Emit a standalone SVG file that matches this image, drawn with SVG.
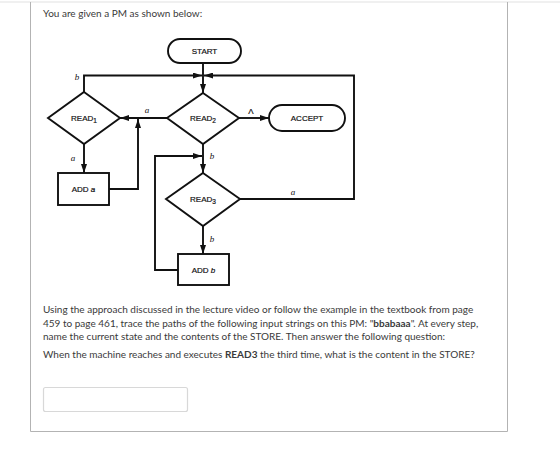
<svg xmlns="http://www.w3.org/2000/svg" width="560" height="455" viewBox="0 0 560 455">
<defs>
<marker id="ah" markerUnits="userSpaceOnUse" markerWidth="9" markerHeight="6" refX="9" refY="3" orient="auto">
<path d="M0,0 L9,3 L0,6 z" fill="#111"/>
</marker>
</defs>
<style>
.pg{font-family:Lato,"Open Sans","Liberation Sans",sans-serif;fill:#3a3a3a;font-size:10px}
.sh{fill:#fff;stroke:#111;stroke-width:1.9}
.ln{fill:none;stroke:#111;stroke-width:1.9}
.nt{font-family:"Liberation Sans",Arial,sans-serif;font-size:8px;fill:#111;text-anchor:middle;stroke:#111;stroke-width:0.2}
.sub{font-size:6.5px}
.lb{font-family:"Liberation Serif","Times New Roman",serif;font-style:italic;font-size:9px;fill:#111;text-anchor:middle}
</style>
<rect x="0" y="0" width="560" height="455" fill="#fff"/>
<line x1="0" y1="2" x2="560" y2="2" stroke="#e2e2e2" stroke-width="1.2"/>
<path d="M30.5,2 V431.5 H507.5 V2" fill="none" stroke="#b3b3b3" stroke-width="1"/>
<text class="pg" x="43" y="17">You are given a PM as shown below:</text>

<g id="connectors">
<line class="ln" x1="203" y1="63" x2="203" y2="93" marker-end="url(#ah)"/>
<polyline class="ln" points="84,92 84,75.5 202,75.5" marker-end="url(#ah)"/>
<polyline class="ln" points="239,199 354,199 354,75.5 204,75.5" marker-end="url(#ah)"/>
<line class="ln" x1="168" y1="118" x2="120" y2="118" marker-end="url(#ah)"/>
<line class="ln" x1="239" y1="118" x2="269" y2="118" marker-end="url(#ah)"/>
<line class="ln" x1="84" y1="144" x2="84" y2="173" marker-end="url(#ah)"/>
<polyline class="ln" points="109,189 138,189 138,119" marker-end="url(#ah)"/>
<line class="ln" x1="203" y1="144" x2="203" y2="173" marker-end="url(#ah)"/>
<polyline class="ln" points="178,270 155,270 155,156 202,156" marker-end="url(#ah)"/>
<line class="ln" x1="203" y1="226" x2="203" y2="254" marker-end="url(#ah)"/>
<text class="lb" x="77" y="80">b</text>
<text class="lb" x="147" y="113">a</text>
<text class="lb" x="73" y="161">a</text>
<text class="lb" x="212" y="159">b</text>
<text class="lb" x="212" y="242">b</text>
<text class="lb" x="293" y="195">a</text>
<text class="nt" x="251" y="114" style="font-size:8px">Λ</text>
</g>

<g id="start">
<rect class="sh" x="168" y="39" width="73" height="24" rx="12"/>
<text class="nt" x="204.5" y="54">START</text>
</g>
<g id="read1">
<polygon class="sh" points="84,92 120,118 84,144 48,118"/>
<text class="nt" x="84" y="121">READ<tspan class="sub" dy="2">1</tspan></text>
</g>
<g id="read2">
<polygon class="sh" points="203,93 239,118 203,144 167,118"/>
<text class="nt" x="203" y="121">READ<tspan class="sub" dy="2">2</tspan></text>
</g>
<g id="accept">
<rect class="sh" x="269" y="105" width="76" height="26" rx="13"/>
<text class="nt" x="307" y="121">ACCEPT</text>
</g>
<g id="adda">
<rect class="sh" x="58" y="173" width="51" height="32"/>
<text class="nt" x="83.5" y="192">ADD <tspan font-style="italic">a</tspan></text>
</g>
<g id="read3">
<polygon class="sh" points="203,173 240,199 203,226 166,199"/>
<text class="nt" x="203" y="202">READ<tspan class="sub" dy="2">3</tspan></text>
</g>
<g id="addb">
<rect class="sh" x="178" y="254" width="51" height="31"/>
<text class="nt" x="203.5" y="273">ADD <tspan font-style="italic">b</tspan></text>
</g>

<text class="pg" x="43" y="313">Using the approach discussed in the lecture video or follow the example in the textbook from page</text>
<text class="pg" x="43" y="327">459 to page 461, trace the paths of the following input strings on this PM: "<tspan font-weight="bold">bbabaaa</tspan>". At every step,</text>
<text class="pg" x="43" y="340">name the current state and the contents of the STORE. Then answer the following question:</text>
<text class="pg" x="43" y="358">When the machine reaches and executes <tspan font-weight="bold">READ3</tspan> the third time, what is the content in the STORE?</text>
<rect x="43.5" y="387.5" width="144" height="24" rx="2" fill="#fff" stroke="#d8d8d8" stroke-width="1.2"/>
</svg>
